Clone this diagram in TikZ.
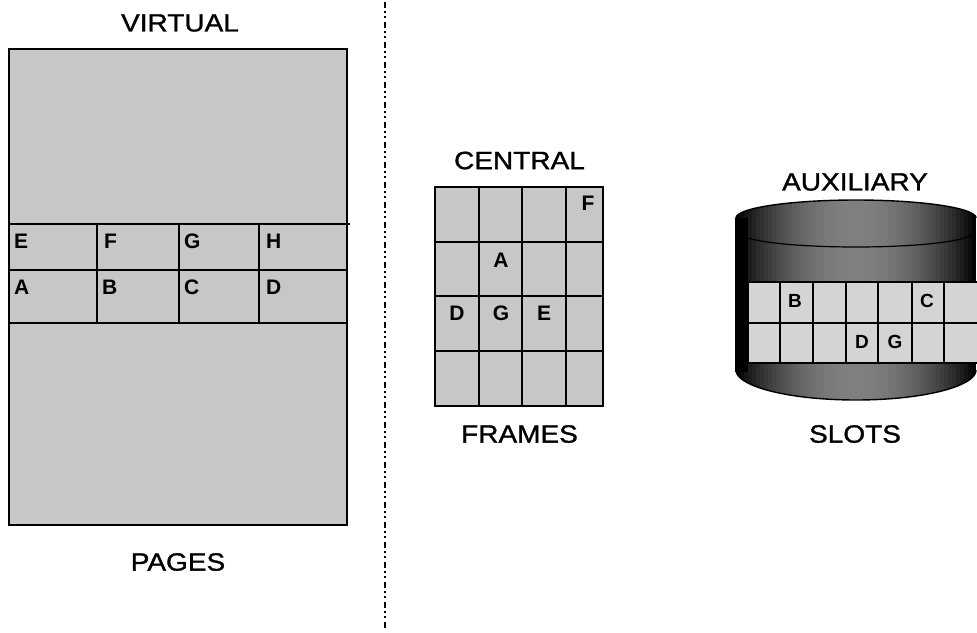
\documentclass[tikz,border=0pt]{standalone}
\usepackage{fontspec}
\setmainfont{Liberation Sans}
\newfontfamily\labfont[FakeStretch=1.12,FakeBold=1.2]{Liberation Sans}
\begin{document}
\begin{tikzpicture}[x=1pt,y=-1pt,
  lab/.style={font=\labfont\fontsize{25}{27}\selectfont, inner sep=0pt},
  let/.style={font=\bfseries\fontsize{21}{22}\selectfont, inner sep=0pt},
  slet/.style={font=\bfseries\fontsize{19}{20}\selectfont, inner sep=0pt},
  gline/.style={draw=black, line width=1.6pt},
  frame/.style={draw=black, line width=2.2pt},
  dotfill/.style={fill=black!22},
  slotfill/.style={fill=black!17},
  sep/.style={draw=black, line width=2.6pt, dash pattern=on 6pt off 3pt on 2pt off 3pt on 2pt off 4pt},
]
\useasboundingbox (0,0) rectangle (977,632);
% separator
\coordinate (s1) at (385,2);
\coordinate (s2) at (385,630);
\draw[sep] (s1) -- (s2);

% ---------- VIRTUAL PAGES ----------
\node[lab] (virtual) at (180,23) {VIRTUAL};
\node[lab] (pages) at (178,562) {PAGES};
\path[dotfill] (9,49) rectangle (347,525);
\draw[gline] (9,224) -- (350,224);
\draw[gline] (9,270) -- (347,270);
\draw[gline] (9,323) -- (347,323);
\foreach \x in {97,179,259} \draw[gline] (\x,224) -- (\x,323);
\draw[frame] (9,49) rectangle (347,525);
\node[let,anchor=west] (vE) at (14,241.5) {E};
\node[let,anchor=west] (vF) at (104,241.5) {F};
\node[let,anchor=west] (vG) at (184,241.5) {G};
\node[let,anchor=west] (vH) at (266,241.5) {H};
\node[let,anchor=west] (vA) at (14,287) {A};
\node[let,anchor=west] (vB) at (102,287) {B};
\node[let,anchor=west] (vC) at (184,287) {C};
\node[let,anchor=west] (vD) at (266,287) {D};

% ---------- CENTRAL FRAMES ----------
\node[lab] (central) at (519.5,160.5) {CENTRAL};
\node[lab] (frames) at (519.5,434) {FRAMES};
\path[dotfill] (435,187) rectangle (603,406);
\foreach \x in {479,522,566} \draw[gline] (\x,187) -- (\x,406);
\foreach \y in {242,296,351} \draw[gline] (435,\y) -- (603,\y);
\draw[frame] (435,187) rectangle (603,406);
\node[let] (cF) at (588,203) {F};
\node[let] (cA) at (501,260) {A};
\node[let] (cD) at (457,313.5) {D};
\node[let] (cG) at (501,313.5) {G};
\node[let] (cE) at (544,313.5) {E};

% ---------- AUXILIARY SLOTS ----------
\node[lab] (aux) at (855,182) {AUXILIARY};
\node[lab] (slots) at (855,434) {SLOTS};
\begin{scope}
  \clip (736,218) -- plot[domain=180:360, samples=80] ({856+120*cos(\x)},{218+18*sin(\x)})
    -- plot[domain=0:180, samples=80] ({856+120*cos(\x)},{370+30*sin(\x)}) -- cycle;
  \foreach \i in {0,...,60} {
    \pgfmathsetmacro\xa{736+4*\i}
    \pgfmathsetmacro\t{(\xa+2-856)/120}
    \pgfmathsetmacro\d{min(100,50+50*\t*\t)}
    \fill[black!\d] (\xa,190) rectangle ({\xa+4.6},405);
  }
\end{scope}
\fill[black] (735,218) rectangle (748,372);
\draw[line width=1.4pt] plot[domain=180:360, samples=80] ({856+120*cos(\x)},{218+18*sin(\x)});
\draw[line width=1.2pt] plot[domain=0:180, samples=80] ({856+116*cos(\x)},{233+14*sin(\x)});
\draw[line width=1.4pt] plot[domain=0:180, samples=80] ({856+120*cos(\x)},{370+30*sin(\x)});
\draw[line width=1.4pt] (736,218) -- (736,370);
\path[slotfill] (748,282) rectangle (977,363);
\foreach \x in {748,780,813,846,878,912,944} \draw[gline] (\x,282) -- (\x,363);
\foreach \y in {282,323,363} \draw[gline] (748,\y) -- (977,\y);
\node[slet] (aB) at (795,301) {B};
\node[slet] (aC) at (927,301) {C};
\node[slet] (aD) at (862,342) {D};
\node[slet] (aG) at (895,342) {G};
\end{tikzpicture}
\end{document}
